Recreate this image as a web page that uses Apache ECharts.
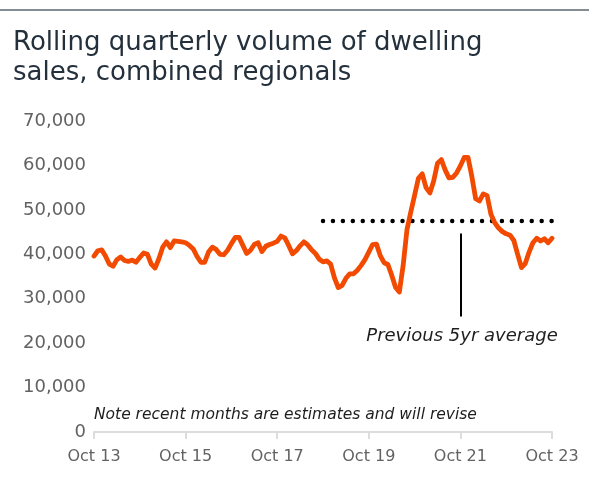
<!DOCTYPE html>
<html>
<head>
<meta charset="utf-8">
<script src="https://cdn.jsdelivr.net/npm/echarts@6/dist/echarts.min.js"></script>
<style>
  html, body { margin: 0; padding: 0; background: #ffffff; }
  #chart { width: 589px; height: 484px; }
</style>
</head>
<body>
<div id="chart"></div>
<script>
// Monthly rolling-quarter dwelling sales, combined regionals, Oct 2013 – Oct 2023
const startYear = 2013;
const startMonth = 9; // October (0-based)
const salesVolume = [
  39600, 40800, 41000, 39600, 37800, 37300, 38800, 39400, 38600, 38400, 38700, 38200,
  39300, 40300, 40000, 37800, 36900, 39000, 41600, 42800, 41500, 43000, 42900, 42800,
  42600, 42000, 41200, 39500, 38200, 38200, 40500, 41600, 41100, 40000, 39900, 40900,
  42400, 43800, 43800, 42000, 40200, 40900, 42200, 42600, 40600, 41800, 42200, 42500,
  42900, 44100, 43700, 42000, 40100, 40800, 41900, 42800, 42100, 41000, 40200, 38900,
  38300, 38500, 37800, 34700, 32500, 33000, 34600, 35600, 35600, 36400, 37500, 38800,
  40500, 42200, 42300, 39700, 38100, 37700, 35300, 32600, 31500, 37500, 45500, 49500,
  53300, 57100, 58100, 55000, 53800, 56500, 60500, 61300, 59000, 57200, 57300, 58300,
  59900, 61800, 61800, 57500, 52500, 52000, 53600, 53200, 49000, 47100, 45900, 45100,
  44600, 44300, 43100, 40000, 37000, 37900, 40500, 42600, 43600, 43000, 43500, 42600,
  43600
];

// Previous five-year average, drawn across the last five years
const fiveYearAverage = 47500;
const averageStartIndex = 60; // Oct 18

// Pointer from the average line down to its label
const pointerIndex = 96;          // Oct 21
const pointerRange = [44700, 26000];

const yTicks = [0, 10000, 20000, 30000, 40000, 50000, 60000, 70000];

const titleText = 'Rolling quarterly volume of dwelling\nsales, combined regionals';
const noteText = 'Note recent months are estimates and will revise';
const averageLabel = 'Previous 5yr average';

const monthNames = ['Jan','Feb','Mar','Apr','May','Jun','Jul','Aug','Sep','Oct','Nov','Dec'];
const categories = salesVolume.map((_, i) => {
  const m = (startMonth + i) % 12;
  const y = startYear + Math.floor((startMonth + i) / 12);
  return monthNames[m] + ' ' + String(y % 100).padStart(2, '0');
});

const averageSeries = salesVolume.map((_, i) => i >= averageStartIndex ? fiveYearAverage : null);

const FONT = '"DejaVu Sans", Inter, sans-serif';

const chart = echarts.init(document.getElementById('chart'), null, { renderer: 'canvas' });

chart.setOption({
  animation: false,
  backgroundColor: '#ffffff',
  title: {
    text: titleText,
    left: 8,
    top: 23,
    textStyle: {
      fontFamily: FONT,
      fontSize: 26,
      fontWeight: 'normal',
      color: '#24313d',
      lineHeight: 30
    }
  },
  grid: { left: 94, right: 37, top: 121, bottom: 52, containLabel: false },
  xAxis: {
    type: 'category',
    data: categories,
    boundaryGap: false,
    axisLine: { show: true, lineStyle: { color: '#dcdcdc', width: 2 } },
    axisTick: { show: true, interval: 23, length: 7, lineStyle: { color: '#dcdcdc', width: 2 } },
    axisLabel: {
      interval: 23,
      margin: 17,
      fontFamily: FONT,
      fontSize: 16,
      color: '#626262'
    },
    splitLine: { show: false }
  },
  yAxis: {
    type: 'value',
    min: yTicks[0],
    max: yTicks[yTicks.length - 1],
    interval: 10000,
    axisLine: { show: false },
    axisTick: { show: false },
    splitLine: { show: false },
    axisLabel: {
      margin: 8,
      fontFamily: FONT,
      fontSize: 18,
      color: '#626262',
      formatter: v => v.toLocaleString('en-US')
    }
  },
  series: [
    {
      name: 'Five-year average',
      type: 'line',
      data: averageSeries,
      symbol: 'none',
      z: 2,
      lineStyle: { color: '#000000', width: 4.5, type: [0, 9.94], cap: 'round' },
      markLine: {
        silent: true,
        symbol: 'none',
        label: { show: false },
        lineStyle: { color: '#000000', width: 2, type: 'solid' },
        data: [[
          { coord: [pointerIndex, pointerRange[0]] },
          { coord: [pointerIndex, pointerRange[1]] }
        ]]
      }
    },
    {
      name: 'Dwelling sales',
      type: 'line',
      data: salesVolume,
      symbol: 'none',
      z: 3,
      lineStyle: { color: '#f24a00', width: 4.8, join: 'round', cap: 'round' }
    }
  ],
  graphic: [
    {
      type: 'line',
      shape: { x1: 0, y1: 10, x2: 589, y2: 10 },
      style: { stroke: '#5b6770', lineWidth: 1.5 }
    },
    {
      type: 'text',
      left: 94,
      top: 407,
      style: {
        text: noteText,
        font: 'italic 15.5px ' + FONT,
        fill: '#1e1e1e'
      }
    },
    {
      type: 'text',
      x: 462,
      y: 336,
      style: {
        text: averageLabel,
        font: 'italic 18px ' + FONT,
        fill: '#1e1e1e',
        align: 'center',
        verticalAlign: 'middle'
      }
    }
  ]
});
</script>
</body>
</html>
